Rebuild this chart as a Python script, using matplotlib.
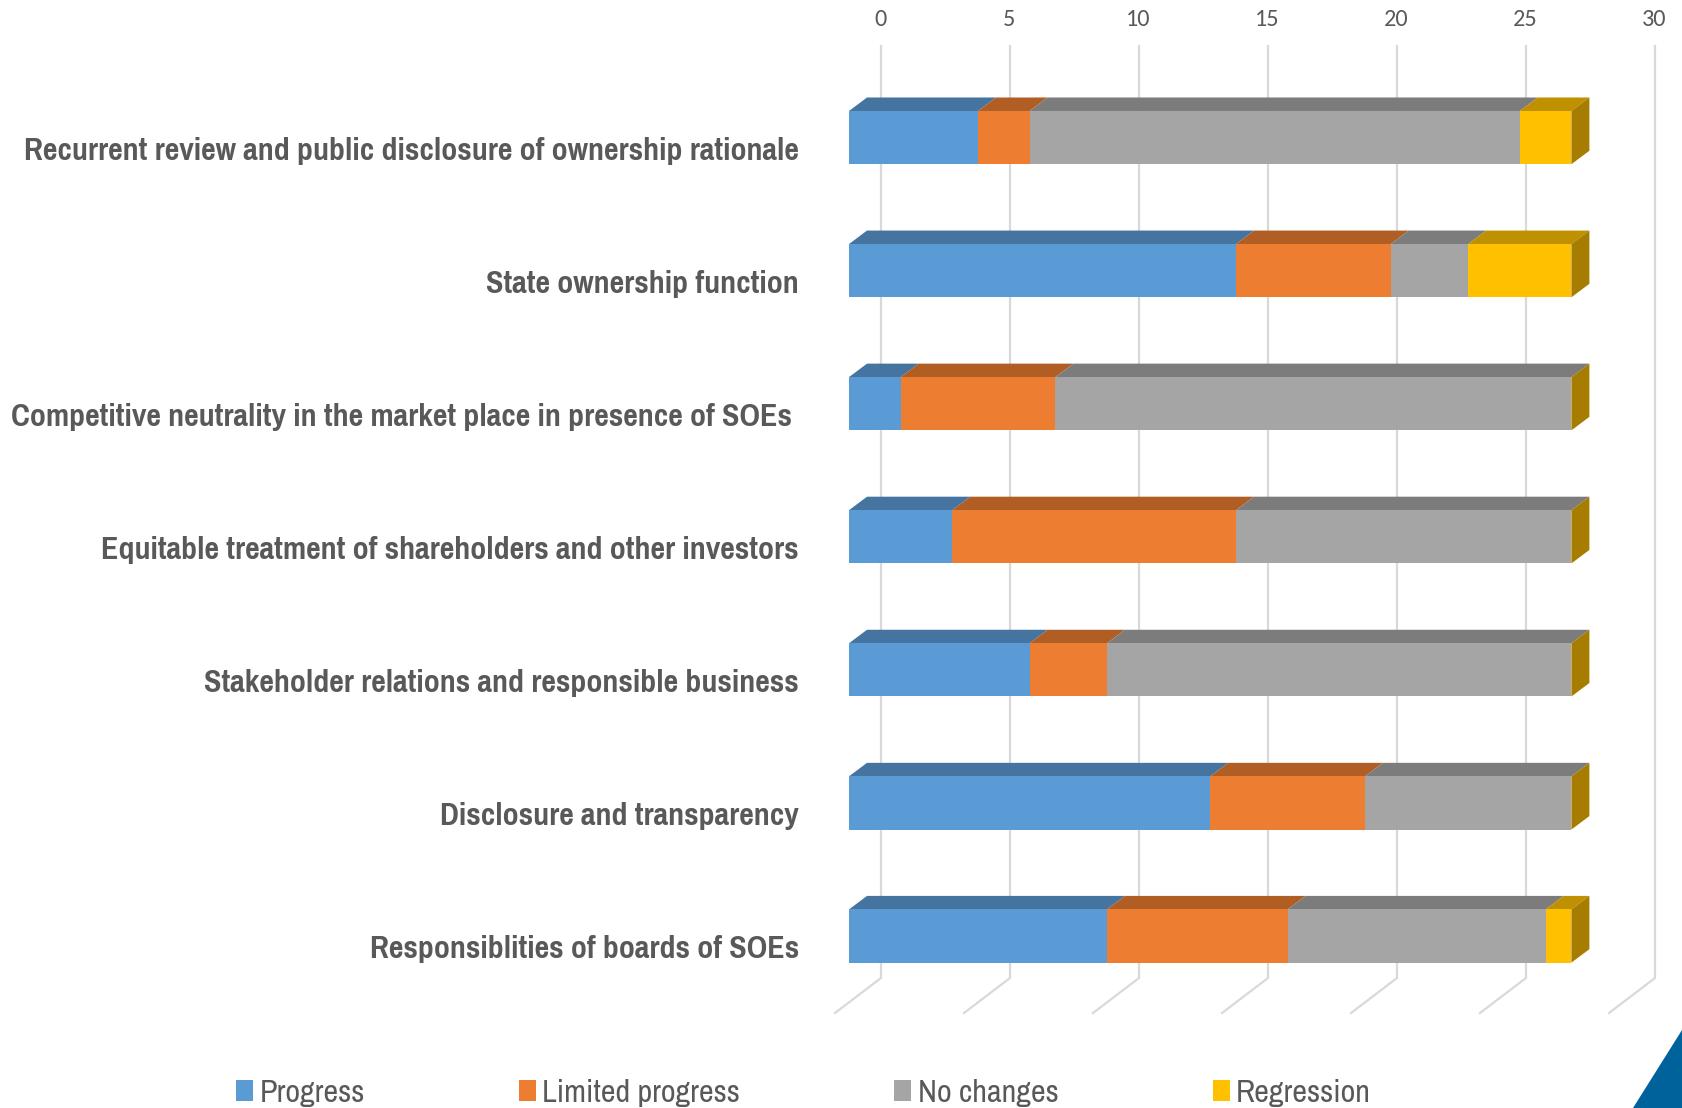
import matplotlib
matplotlib.use("Agg")
import matplotlib.pyplot as plt
from matplotlib.patches import Polygon, Patch
from matplotlib import font_manager as fm

categories = [
    "Recurrent review and public disclosure of ownership rationale",
    "State ownership function",
    "Competitive neutrality in the market place in presence of SOEs ",
    "Equitable treatment of shareholders and other investors",
    "Stakeholder relations and responsible business",
    "Disclosure and transparency",
    "Responsiblities of boards of SOEs",
]
series_names = ["Progress", "Limited progress", "No changes", "Regression"]
progress = [5, 15, 2, 4, 7, 14, 10]
limited = [2, 6, 6, 11, 3, 6, 7]
no_changes = [19, 3, 20, 13, 18, 8, 10]
regression = [2, 4, 0, 0, 0, 0, 1]
series = [progress, limited, no_changes, regression]
ticks = [0, 5, 10, 15, 20, 25, 30]

front = ["#5B9BD5", "#ED7D31", "#A5A5A5", "#FFC000"]
top = ["#44749F", "#B15E25", "#7C7C7C", "#BF9000"]
side_color = "#A67D00"
grid_color = "#D9D9D9"
text_color = "#595959"

avail = {f.name for f in fm.fontManager.ttflist}
tick_font = ("Carlito", 17.5) if "Carlito" in avail else ("Open Sans", 15.5)
bold_font = next(n for n in ["Pragati Narrow", "PT Sans Narrow", "Roboto Condensed", "Archivo Narrow", "Liberation Sans"] if n in avail)
reg_font = next(n for n in ["Archivo Narrow", "PT Sans Narrow", "Roboto Condensed", "Liberation Sans"] if n in avail)

W, H = 1682, 1108
PX_X0, PX_UNIT = 849.0, 25.8
PX_Y0, PX_ROW = 137.6, 133.07
ux = lambda px: px / PX_UNIT
uy = lambda px: px / PX_ROW

fig = plt.figure(figsize=(W / 100, H / 100), dpi=100, facecolor="white")
ax = fig.add_axes([0, 0, 1, 1])
ax.set_xlim(-PX_X0 / PX_UNIT, (W - PX_X0) / PX_UNIT)
ax.set_ylim((H - PX_Y0) / PX_ROW, -PX_Y0 / PX_ROW)
ax.axis("off")

bar_h = 0.40
dx, dy = ux(18), uy(13.5)
rows = list(range(len(categories)))

gx, gtop, gbot = ux(32), uy(46 - PX_Y0), uy(978 - PX_Y0)
for t in ticks:
    x = t + gx
    ax.plot([x, x, x - ux(46)], [gtop, gbot, gbot + uy(35)], color=grid_color,
            lw=1.6, solid_joinstyle="miter", zorder=1)
    ax.text(x - ux(0.7), uy(19 - PX_Y0), str(t), ha="center", va="center",
            family=tick_font[0], fontsize=tick_font[1], color=text_color)

for r in rows:
    left = 0
    for s, vals in enumerate(series):
        v = vals[r]
        y0 = r - bar_h / 2
        ax.barh(r, v, left=left, height=bar_h, color=front[s], lw=0, zorder=3)
        if v:
            ax.add_patch(Polygon([(left, y0), (left + v, y0), (left + v + dx, y0 - dy),
                                  (left + dx, y0 - dy)], closed=True, fc=top[s], lw=0, zorder=2))
        left += v
    y0, y1 = r - bar_h / 2, r + bar_h / 2
    ax.add_patch(Polygon([(left, y0), (left + dx, y0 - dy), (left + dx, y1 - dy), (left, y1)],
                         closed=True, fc=side_color, lw=0, zorder=2))

label_right = [799, 799, 791.5, 799, 798.5, 799, 799]
for r, name in enumerate(categories):
    ax.text(ux(label_right[r] - PX_X0), r + uy(13.2), name.rstrip(), ha="right", va="center",
            family=bold_font, fontweight="bold", fontsize=25, color=text_color)

handles = [Patch(fc=c, lw=0) for c in front]
leg = ax.legend(handles, series_names, ncols=4, loc="center left",
                bbox_to_anchor=(236 / W, 1 - 1093 / H), bbox_transform=fig.transFigure,
                frameon=False, prop={"family": reg_font, "size": 23.2},
                handlelength=0.53, handleheight=0.62, handletextpad=0.2,
                columnspacing=4.78, borderpad=0, borderaxespad=0, labelcolor=text_color)

fig.add_artist(Polygon([(1, 1 - 1030 / H), (1, 0), (1632.7 / W, 0)], closed=True, fc="#00629B",
                       lw=0, transform=fig.transFigure))

fig.savefig("out.png", dpi=100)
